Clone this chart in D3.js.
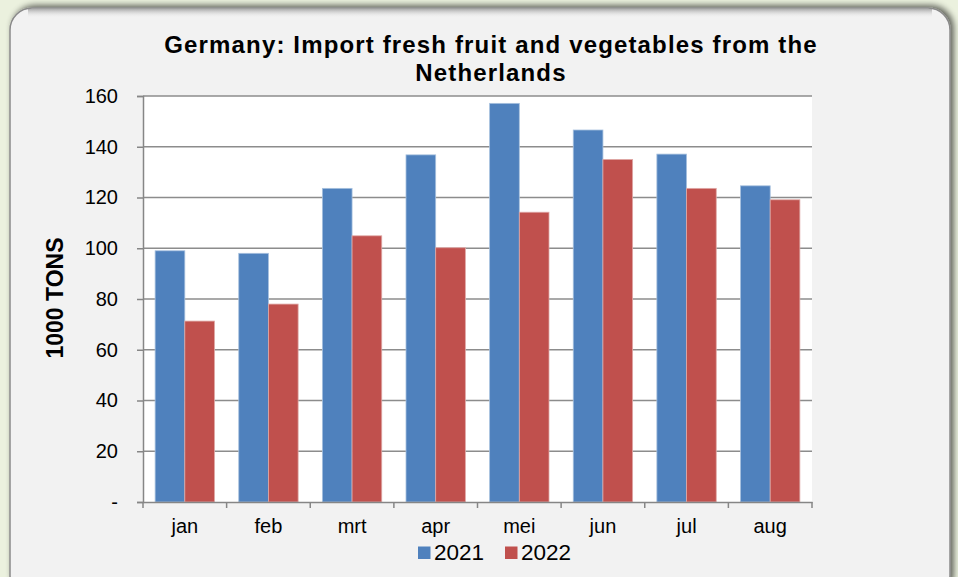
<!DOCTYPE html>
<html><head><meta charset="utf-8">
<script src="https://cdn.jsdelivr.net/npm/d3@7"></script>
<style>body{margin:0;background:#ebf1de;}svg{display:block;}</style>
</head><body>
<svg id="c" width="958" height="577"></svg>
<script>
const months = ["jan","feb","mrt","apr","mei","jun","jul","aug"];
const series = ["2021","2022"];
const values2021 = [99.0, 98.0, 123.6, 136.8, 157.1, 146.6, 137.1, 124.6];
const values2022 = [71.3, 78.0, 104.9, 100.2, 114.2, 135.0, 123.6, 119.1];
const yTicks = [0,20,40,60,80,100,120,140,160];
const colors = ["#4f81bd","#c0504d"];
const strokeColors = ["#a7c0de","#dfa8a6"];
const title = ["Germany: Import fresh fruit and vegetables from the","Netherlands"];
const yLabel = "1000 TONS";
const FONT = "Liberation Sans, Arial, sans-serif";

const svg = d3.select("#c");
const defs = svg.append("defs");
const f = defs.append("filter").attr("id","sh").attr("x","-5%").attr("y","-5%").attr("width","110%").attr("height","110%");
f.append("feGaussianBlur").attr("in","SourceAlpha").attr("stdDeviation",3);
f.append("feOffset").attr("dx",3).attr("dy",-2).attr("result","b");
f.append("feComponentTransfer").append("feFuncA").attr("type","linear").attr("slope",0.6);
const m = f.append("feMerge"); m.append("feMergeNode"); m.append("feMergeNode").attr("in","SourceGraphic");

// inner top shading
const lgd = defs.append("linearGradient").attr("id","tg").attr("x1",0).attr("y1",0).attr("x2",0).attr("y2",1);
lgd.append("stop").attr("offset","0%").attr("stop-color","#8f8f8f");
lgd.append("stop").attr("offset","100%").attr("stop-color","#f2f2f2").attr("stop-opacity",0);

svg.append("rect").attr("x",10).attr("y",8).attr("width",940).attr("height",590)
  .attr("rx",22).attr("fill","#f2f2f2").attr("stroke","#8a8a8a").attr("stroke-width",1.5)
  .attr("filter","url(#sh)");
svg.append("rect").attr("x",28).attr("y",8.75).attr("width",904).attr("height",9).attr("fill","url(#tg)").attr("opacity",0.75);

const L=143, R=812, T=96, B=502;
const x = d3.scaleBand().domain(months).range([L,R]).paddingInner(0.29).paddingOuter(0.145);
const xs = d3.scaleBand().domain(series).range([0,x.bandwidth()]);
const y = d3.scaleLinear().domain([0,160]).range([B,T]);

svg.append("rect").attr("x",L).attr("y",T).attr("width",R-L).attr("height",B-T).attr("fill","#fff");

// gridlines
svg.append("g").selectAll("line").data(yTicks.slice(1)).join("line")
  .attr("x1",L).attr("x2",R).attr("y1",d=>y(d)).attr("y2",d=>y(d))
  .attr("stroke","#8c8c8c").attr("stroke-width",1.5);

// bars
const data = [values2021, values2022];
const g = svg.append("g");
series.forEach((s,i)=>{
  g.selectAll(".b"+i).data(months).join("rect")
   .attr("x",(d)=>x(d)+xs(s)).attr("width",xs.bandwidth())
   .attr("y",(d,j)=>y(data[i][j])).attr("height",(d,j)=>B-y(data[i][j]))
   .attr("fill",colors[i]).attr("stroke",strokeColors[i]).attr("stroke-width",0.8);
});

// y axis
const ya = d3.axisLeft(y).tickValues(yTicks).tickSize(6).tickPadding(19)
  .tickFormat(d=>d===0?"-":d);
const yg = svg.append("g").attr("transform",`translate(${L},0)`).call(ya);
yg.select(".domain").attr("stroke","#868686").attr("stroke-width",1.5);
yg.selectAll(".tick line").attr("stroke","#868686").attr("stroke-width",1.5);
yg.selectAll("text").attr("font-family",FONT).attr("font-size",20).attr("fill","#000");

// x axis
const xa = d3.axisBottom(x).tickSize(0).tickPadding(17);
const xg = svg.append("g").attr("transform",`translate(0,${B})`).call(xa);
xg.select(".domain").attr("stroke","#868686").attr("stroke-width",1.5);
xg.selectAll("text").attr("font-family",FONT).attr("font-size",20).attr("fill","#000");
const bounds = months.map(d=>x(d)-x.step()*x.paddingInner()/2).concat([R]);
xg.selectAll(".bt").data(bounds).join("line").attr("x1",d=>d).attr("x2",d=>d).attr("y1",0).attr("y2",6)
  .attr("stroke","#868686").attr("stroke-width",1.5);

// title
svg.append("text").attr("text-anchor","middle")
  .attr("font-family",FONT).attr("font-weight","bold").attr("font-size",24).attr("letter-spacing",1.15)
  .selectAll("tspan").data(title).join("tspan").attr("x",491).attr("y",(d,i)=>53+i*28).text(d=>d);

// y label
svg.append("text").attr("transform","translate(63,298) rotate(-90)").attr("text-anchor","middle")
  .attr("font-family",FONT).attr("font-weight","bold").attr("font-size",23)
  .text(yLabel);

// legend
const lg = svg.append("g");
const lx = [418, 505];
series.forEach((s,i)=>{
  lg.append("rect").attr("x",lx[i]).attr("y",546.5).attr("width",12.5).attr("height",12.5).attr("fill",colors[i]);
  lg.append("text").attr("x",lx[i]+16).attr("y",560).attr("font-family",FONT)
    .attr("font-size",22.5).text(s);
});
</script>
</body></html>
